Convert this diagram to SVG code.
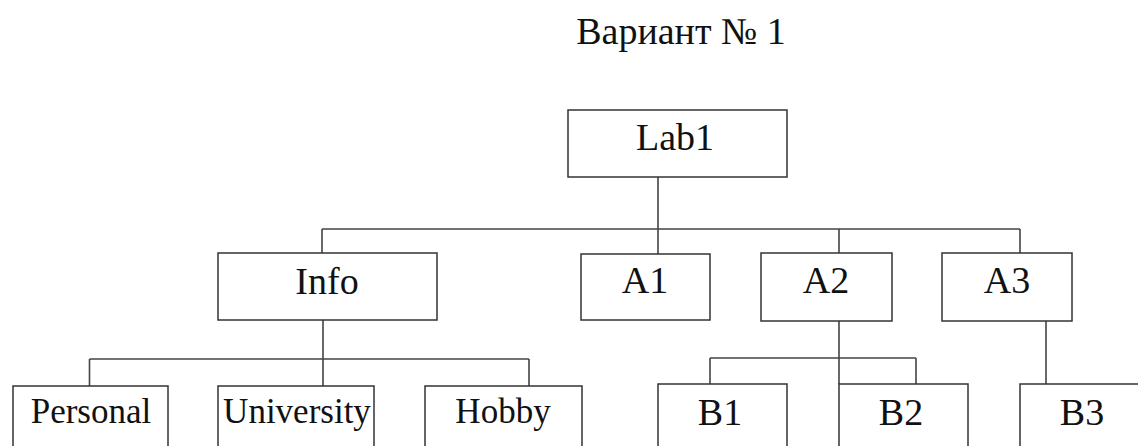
<svg xmlns="http://www.w3.org/2000/svg" width="1138" height="446" viewBox="0 0 1138 446">
<style>
.box{fill:#fff;stroke:#333;stroke-width:1.5}
.t{font-family:"Liberation Serif","Times New Roman",serif;font-size:38px;fill:#111;text-anchor:middle}
.s{font-size:35px}
.c{fill:none;stroke:#444;stroke-width:1.6}
</style>
<rect width="1138" height="446" fill="#fff"/>
<text class="t" x="681" y="44">Вариант № 1</text>
<g id="connectors">
<path class="c" d="M658,177V254M322,229H1020M322,229V253M839,229V253M1020,229V253"/>
<path class="c" d="M323,320V386M89.5,359H529M89.5,359V386M529,359V386"/>
<path class="c" d="M839,321V384M710,358H916M710,358V384M916,358V384"/>
<path class="c" d="M1046,321V384"/>
</g>
<g id="lab1"><rect class="box" x="568" y="110" width="219" height="67"/><text class="t" x="675" y="150">Lab1</text></g>
<g id="info"><rect class="box" x="218" y="253" width="219" height="67"/><text class="t" x="327" y="294">Info</text></g>
<g id="a1"><rect class="box" x="581" y="254" width="129" height="66"/><text class="t" x="645" y="293">A1</text></g>
<g id="a2"><rect class="box" x="761" y="253" width="131" height="68"/><text class="t" x="826" y="293">A2</text></g>
<g id="a3"><rect class="box" x="942" y="253" width="130" height="68"/><text class="t" x="1007" y="293">A3</text></g>
<g id="personal"><rect class="box" x="13" y="386" width="155" height="80"/><text class="t s" x="91" y="423">Personal</text></g>
<g id="university"><rect class="box" x="218" y="386" width="156" height="80"/><text class="t s" x="297" y="423">University</text></g>
<g id="hobby"><rect class="box" x="425" y="386" width="157" height="80"/><text class="t s" x="503" y="423">Hobby</text></g>
<g id="b1"><rect class="box" x="658" y="384" width="129" height="80"/><text class="t" x="720" y="425">B1</text></g>
<g id="b2"><rect class="box" x="839" y="384" width="129" height="80"/><text class="t" x="901" y="425">B2</text></g>
<g id="b3"><rect class="box" x="1020" y="384" width="130" height="80"/><text class="t" x="1082" y="425">B3</text></g>
</svg>
